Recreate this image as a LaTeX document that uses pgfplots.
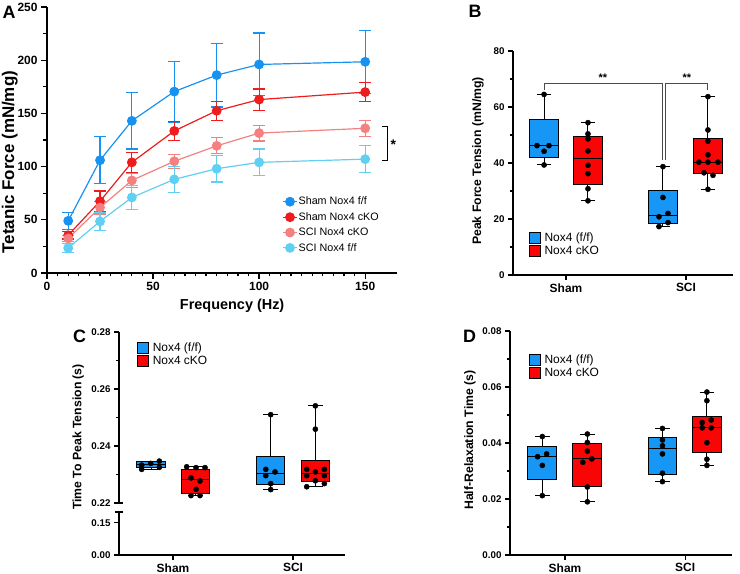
\documentclass[border=0pt]{standalone}
\usepackage{fontspec}
\setmainfont{Liberation Sans}
\usepackage{pgfplots}
\pgfplotsset{compat=1.18}
\usepgfplotslibrary{statistics}
\definecolor{cblue}{RGB}{24,146,240}
\definecolor{cred}{RGB}{238,28,28}
\definecolor{csalmon}{RGB}{244,128,128}
\definecolor{ccyan}{RGB}{96,208,242}
\definecolor{bblue}{RGB}{22,150,245}
\definecolor{bred}{RGB}{250,5,5}
\pgfplotsset{
  myaxis/.style={scale only axis, anchor=south west, axis x line=bottom, axis y line=left,
    axis line style={-, line width=1.1pt}, tick align=outside, xtick pos=bottom, ytick pos=left,
    every tick/.style={black, line width=1.1pt}, major tick length=5bp, minor tick length=3bp,
    /pgf/number format/assume math mode=true, clip=false, scaled y ticks=false},
  boxaxis/.style={myaxis, xtick={0,1}, xticklabels={Sham,SCI}, boxplot/draw direction=y,
    xticklabel style={font=\fontsize{12}{14}\selectfont\bfseries},
    yticklabel style={font=\fontsize{9.8}{11}\selectfont\bfseries},
    ylabel style={font=\fontsize{12.3}{14}\selectfont\bfseries, anchor=center},
    legend image code/.code={\draw[#1] (0bp,-5.5bp) rectangle (11bp,5.5bp);},
    legend style={draw=none, fill=none, anchor=north west, inner sep=0pt,
      font=\fontsize{12}{14}\selectfont, row sep=1bp, nodes={inner sep=1.2bp},
      /tikz/every odd column/.append style={column sep=2.5bp}},
    legend cell align=left},
  dots/.style={only marks, mark=*, mark size=2.6bp, black, mark options={fill=black}},
  ebars/.style={error bars/.cd, y dir=both, y explicit, error bar style={line width=1.2pt},
    error mark=-, error mark options={rotate=90, line width=1.2pt, mark size=6bp}},
}
\begin{document}
\begin{tikzpicture}
\useasboundingbox (0,0) rectangle (740bp,574bp);
% ---------------- Panel A
\begin{axis}[myaxis, at={(47bp,301bp)}, width=350bp, height=266bp,
  xmin=0, xmax=165, ymin=0, ymax=250,
  xtick={0,50,100,150}, ytick={0,50,100,150,200,250},
  minor x tick num=9, minor y tick num=1,
  major tick length=6bp, minor tick length=3.5bp,
  axis line style={line width=1.4pt}, every tick/.style={black, line width=1.3pt},
  ticklabel style={font=\fontsize{12}{14}\selectfont\bfseries},
  xlabel={Frequency (Hz)}, ylabel={Tetanic Force (mN/mg)},
  xlabel style={font=\fontsize{14.5}{16}\selectfont\bfseries, at={(axis description cs:0.529,-0.124)}, anchor=center},
  ylabel style={font=\fontsize{17}{19}\selectfont\bfseries, at={(axis description cs:-0.106,0.417)}, anchor=center},
  legend style={at={(axis description cs:0.672,0.29)}, anchor=north west, draw=none, fill=none,
    font=\fontsize{10.8}{12}\selectfont, inner sep=0pt, row sep=4.2bp, nodes={inner sep=1bp}},
  legend cell align=left,
  legend image code/.code={\draw[mark repeat=2,mark phase=2,#1] plot coordinates {(0bp,0bp) (7bp,0bp) (14bp,0bp)};},
]
\addplot[color=cblue, line width=1.2pt, mark=*, mark size=4.3bp, ebars]
 coordinates {(10,49)+-(0,8) (25,106)+-(0,22) (40,143)+-(0,26.5) (60,170.5)+-(0,28.5) (80,186)+-(0,30) (100,196)+-(0,29.5) (150,198.5)+-(0,29.5)};
\addlegendentry{Sham Nox4 f/f}
\addplot[color=cred, line width=1.2pt, mark=*, mark size=4.3bp, ebars]
 coordinates {(10,35.5)+-(0,3.5) (25,67.5)+-(0,9.5) (40,104)+-(0,9.5) (60,133.5)+-(0,9) (80,152.5)+-(0,9) (100,163)+-(0,10) (150,170)+-(0,9)};
\addlegendentry{Sham Nox4 cKO}
\addplot[color=csalmon, line width=1.2pt, mark=*, mark size=4.3bp, ebars]
 coordinates {(10,32.5)+-(0,3) (25,61.5)+-(0,6) (40,87)+-(0,6.5) (60,105)+-(0,6.5) (80,119.5)+-(0,7.5) (100,131.5)+-(0,7.5) (150,136)+-(0,7.5)};
\addlegendentry{SCI Nox4 cKO}
\addplot[color=ccyan, line width=1.2pt, mark=*, mark size=4.3bp, ebars]
 coordinates {(10,23.5)+-(0,4) (25,48.5)+-(0,8.5) (40,71)+-(0,11) (60,88)+-(0,12) (80,98)+-(0,12.5) (100,104)+-(0,12.5) (150,107)+-(0,12.5)};
\addlegendentry{SCI Nox4 f/f}
\draw[line width=1.2pt] (axis cs:158,138) -- (axis cs:160.4,138) -- (axis cs:160.4,106) -- (axis cs:158,106);
\node[font=\fontsize{14}{16}\selectfont\bfseries] at (axis cs:163.3,121) {*};
\end{axis}
% ---------------- Panel B
\begin{axis}[boxaxis, at={(513bp,299bp)}, width=220bp, height=224bp,
  xmin=-0.442, xmax=1.392, ymin=0, ymax=80, ytick={0,20,40,60,80}, minor y tick num=1,
  ylabel={Peak Force Tension (mN/mg)},
  ylabel style={at={(axis description cs:-0.159,0.509)}},
  legend style={at={(axis description cs:0.072,0.196)}}]
\addlegendimage{fill=bblue, draw=black, line width=0.8pt}\addlegendentry{Nox4 (f/f)}
\addlegendimage{fill=bred, draw=black, line width=0.8pt}\addlegendentry{Nox4 cKO}
\addplot[boxplot prepared={draw position=-0.183, lower whisker=39.3, lower quartile=41.9, median=46.2, upper quartile=55.4, upper whisker=64.5, box extend=0.24, whisker extend=0.12}, fill=bblue, draw=black, line width=1pt] coordinates {};
\addplot[boxplot prepared={draw position=0.183, lower whisker=26.5, lower quartile=32.4, median=41.5, upper quartile=49.6, upper whisker=54.4, box extend=0.24, whisker extend=0.12}, fill=bred, draw=black, line width=1pt] coordinates {};
\addplot[boxplot prepared={draw position=0.808, lower whisker=17.3, lower quartile=18.5, median=21.4, upper quartile=30.1, upper whisker=38.7, box extend=0.24, whisker extend=0.12}, fill=bblue, draw=black, line width=1pt] coordinates {};
\addplot[boxplot prepared={draw position=1.183, lower whisker=30.6, lower quartile=36.4, median=40.3, upper quartile=48.6, upper whisker=63.7, box extend=0.24, whisker extend=0.12}, fill=bred, draw=black, line width=1pt] coordinates {};
\addplot[dots] coordinates {(-0.183,64.5) (-0.242,46.2) (-0.142,46.2) (-0.183,44.2) (-0.183,39.3)};
\addplot[dots] coordinates {(0.183,54.4) (0.183,50.4) (0.183,48.6) (0.183,44.3) (0.183,39.2) (0.183,36.2) (0.183,30.8) (0.183,26.5)};
\addplot[dots] coordinates {(0.808,38.7) (0.808,27.7) (0.85,22.0) (0.775,20.8) (0.85,18.7) (0.775,17.3)};
\addplot[dots] coordinates {(1.183,63.7) (1.183,51.8) (1.183,47.8) (1.183,42.9) (1.108,40.3) (1.183,40.3) (1.267,40.3) (1.15,36.5) (1.225,35.6) (1.183,30.6)};
\draw[line width=0.9pt, black!70] (axis cs:-0.183,66.1) -- (axis cs:-0.183,68.5) -- (axis cs:0.8,68.5) -- (axis cs:0.8,41.1);
\draw[line width=0.9pt, black!70] (axis cs:0.825,41.1) -- (axis cs:0.825,68.5) -- (axis cs:1.183,68.5) -- (axis cs:1.183,66.1);
\node[font=\fontsize{11}{12}\selectfont\bfseries] at (axis cs:0.308,70.6) {**};
\node[font=\fontsize{11}{12}\selectfont\bfseries] at (axis cs:1.008,70.6) {**};
\end{axis}
% ---------------- Panel C (upper)
\begin{axis}[boxaxis, at={(119bp,71bp)}, width=226bp, height=171bp,
  xmin=-0.45, xmax=1.433, ymin=0.22, ymax=0.28, axis x line=none, xtick=\empty,
  ytick={0.22,0.24,0.26,0.28}, minor y tick num=1,
  yticklabel style={/pgf/number format/.cd, fixed, fixed zerofill, precision=2},
  ylabel={Time To Peak Tension (s)},
  ylabel style={at={(axis description cs:-0.181,0.386)}},
  legend style={at={(axis description cs:0.08,0.945)}}]
\addlegendimage{fill=bblue, draw=black, line width=0.8pt}\addlegendentry{Nox4 (f/f)}
\addlegendimage{fill=bred, draw=black, line width=0.8pt}\addlegendentry{Nox4 cKO}
\addplot[boxplot prepared={draw position=-0.183, lower whisker=0.2318, lower quartile=0.2325, median=0.2335, upper quartile=0.2344, upper whisker=0.2347, box extend=0.24, whisker extend=0.12}, fill=bblue, draw=black, line width=1pt] coordinates {};
\addplot[boxplot prepared={draw position=0.1875, lower whisker=0.2226, lower quartile=0.2234, median=0.2283, upper quartile=0.2316, upper whisker=0.2327, box extend=0.24, whisker extend=0.12}, fill=bred, draw=black, line width=1pt] coordinates {};
\addplot[boxplot prepared={draw position=0.8125, lower whisker=0.2247, lower quartile=0.2264, median=0.2302, upper quartile=0.2362, upper whisker=0.2510, box extend=0.24, whisker extend=0.12}, fill=bblue, draw=black, line width=1pt] coordinates {};
\addplot[boxplot prepared={draw position=1.1875, lower whisker=0.2257, lower quartile=0.2276, median=0.2302, upper quartile=0.2350, upper whisker=0.2541, box extend=0.24, whisker extend=0.12}, fill=bred, draw=black, line width=1pt] coordinates {};
\addplot[dots] coordinates {(-0.261,0.2333) (-0.261,0.2318) (-0.186,0.2339) (-0.114,0.2347) (-0.114,0.2325)};
\addplot[dots] coordinates {(0.114,0.2327) (0.192,0.2324) (0.267,0.2324) (0.15,0.2288) (0.225,0.2277) (0.192,0.2248) (0.15,0.2226) (0.225,0.2226)};
\addplot[dots] coordinates {(0.814,0.2510) (0.773,0.2318) (0.85,0.2309) (0.773,0.2296) (0.814,0.2268) (0.814,0.2247)};
\addplot[dots] coordinates {(1.186,0.2541) (1.186,0.2459) (1.114,0.2318) (1.261,0.2318) (1.186,0.2309) (1.114,0.2296) (1.261,0.2296) (1.186,0.2278) (1.261,0.2268) (1.114,0.2257)};
\draw[line width=1.1pt] (axis description cs:-0.018,0) -- (axis description cs:0.018,0);
\end{axis}
% ---------------- Panel C (lower)
\begin{axis}[boxaxis, at={(119bp,19bp)}, width=226bp, height=43bp,
  xmin=-0.45, xmax=1.433, ymin=0, ymax=0.2, ytick={0,0.15},
  yticklabel style={/pgf/number format/.cd, fixed, fixed zerofill, precision=2}]
\draw[line width=1.1pt] (axis description cs:-0.018,1) -- (axis description cs:0.018,1);
\end{axis}
% ---------------- Panel D
\begin{axis}[boxaxis, at={(510bp,19bp)}, width=222bp, height=224bp,
  xmin=-0.458, xmax=1.39, ymin=0, ymax=0.08, ytick={0,0.02,0.04,0.06,0.08}, minor y tick num=1,
  yticklabel style={/pgf/number format/.cd, fixed, fixed zerofill, precision=2},
  ylabel={Half-Relaxation Time (s)},
  ylabel style={at={(axis description cs:-0.18,0.513)}},
  legend style={at={(axis description cs:0.085,0.9)}}]
\addlegendimage{fill=bblue, draw=black, line width=0.8pt}\addlegendentry{Nox4 (f/f)}
\addlegendimage{fill=bred, draw=black, line width=0.8pt}\addlegendentry{Nox4 cKO}
\addplot[boxplot prepared={draw position=-0.189, lower whisker=0.0212, lower quartile=0.0268, median=0.0351, upper quartile=0.0389, upper whisker=0.0423, box extend=0.24, whisker extend=0.12}, fill=bblue, draw=black, line width=1pt] coordinates {};
\addplot[boxplot prepared={draw position=0.186, lower whisker=0.0190, lower quartile=0.0244, median=0.0343, upper quartile=0.0399, upper whisker=0.0432, box extend=0.24, whisker extend=0.12}, fill=bred, draw=black, line width=1pt] coordinates {};
\addplot[boxplot prepared={draw position=0.811, lower whisker=0.0262, lower quartile=0.0286, median=0.0379, upper quartile=0.0419, upper whisker=0.0452, box extend=0.24, whisker extend=0.12}, fill=bblue, draw=black, line width=1pt] coordinates {};
\addplot[boxplot prepared={draw position=1.181, lower whisker=0.0320, lower quartile=0.0367, median=0.0457, upper quartile=0.0496, upper whisker=0.0582, box extend=0.24, whisker extend=0.12}, fill=bred, draw=black, line width=1pt] coordinates {};
\addplot[dots] coordinates {(-0.189,0.0423) (-0.228,0.0351) (-0.153,0.0361) (-0.189,0.0320) (-0.189,0.0212)};
\addplot[dots] coordinates {(0.186,0.0432) (0.186,0.0402) (0.186,0.0371) (0.223,0.0343) (0.148,0.0331) (0.186,0.0243) (0.186,0.0190)};
\addplot[dots] coordinates {(0.811,0.0452) (0.811,0.0411) (0.811,0.0390) (0.811,0.0361) (0.811,0.0292) (0.811,0.0262)};
\addplot[dots] coordinates {(1.181,0.0582) (1.181,0.0551) (1.142,0.0473) (1.217,0.0482) (1.142,0.0454) (1.217,0.0454) (1.181,0.0401) (1.181,0.0342) (1.181,0.0320)};
\end{axis}
% ---------------- Panel letters
\node[font=\fontsize{18}{20}\selectfont\bfseries] at (9bp,562bp) {A};
\node[font=\fontsize{18}{20}\selectfont\bfseries] at (475bp,563bp) {B};
\node[font=\fontsize{18}{20}\selectfont\bfseries] at (79.5bp,237.5bp) {C};
\node[font=\fontsize{18}{20}\selectfont\bfseries] at (469.5bp,237.5bp) {D};
\end{tikzpicture}
\end{document}
